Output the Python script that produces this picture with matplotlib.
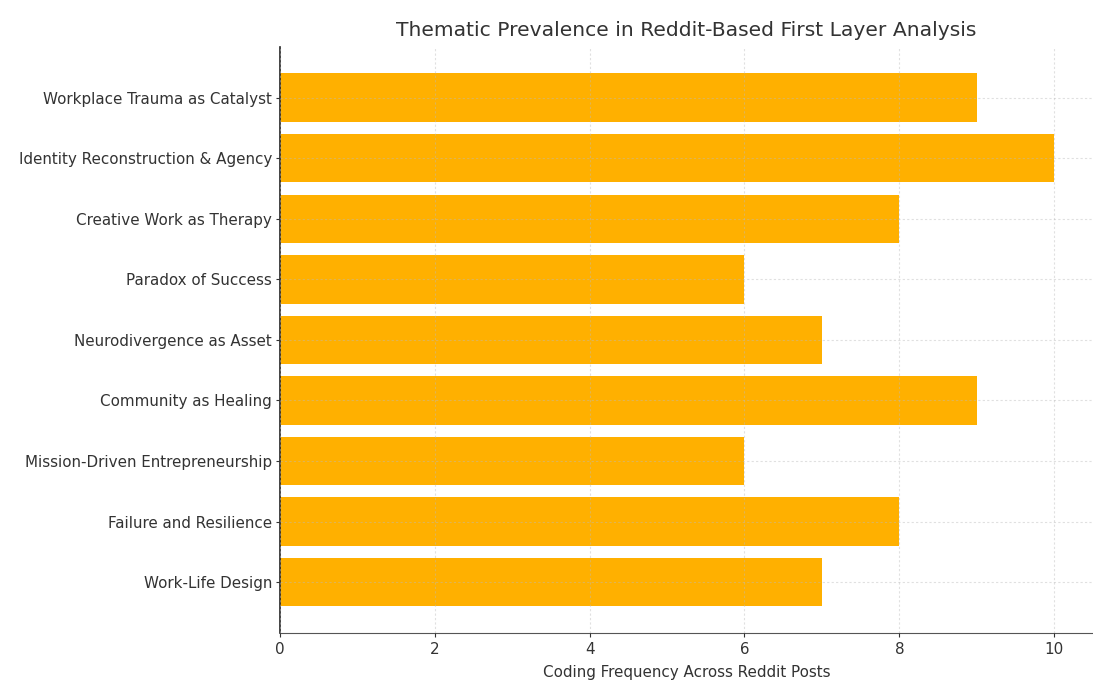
import matplotlib.pyplot as plt

themes = [
    'Workplace Trauma as Catalyst',
    'Identity Reconstruction & Agency',
    'Creative Work as Therapy',
    'Paradox of Success',
    'Neurodivergence as Asset',
    'Community as Healing',
    'Mission-Driven Entrepreneurship',
    'Failure and Resilience',
    'Work-Life Design',
]
frequency = [9, 10, 8, 6, 7, 9, 6, 8, 7]

fig = plt.figure(figsize=(10.93, 6.98), dpi=100)
ax = fig.add_axes([0.256, 0.093, 0.744, 0.84])

ax.barh(themes, frequency, height=0.8, color='#FFB000')
ax.invert_yaxis()
ax.set_xlim(0, 10.5)

# light dashed grid drawn over the bars
ax.set_axisbelow(False)
ax.grid(True, linestyle=(0, (2, 2)), linewidth=0.8, color='#bbbbbb', alpha=0.45)

ax.spines['top'].set_visible(False)
ax.spines['right'].set_visible(False)
ax.spines['left'].set_color('#222222')
ax.spines['left'].set_linewidth(1.2)
ax.spines['bottom'].set_color('#555555')
ax.tick_params(labelsize=10.9, colors='#333333', length=3)
ax.tick_params(axis='y', pad=2.5)

ax.set_title('Thematic Prevalence in Reddit-Based First Layer Analysis',
             fontsize=14.6, color='#333333', pad=8)
ax.set_xlabel('Coding Frequency Across Reddit Posts', fontsize=10.9,
              color='#333333', labelpad=6)

fig.savefig('out.png', dpi=100)
